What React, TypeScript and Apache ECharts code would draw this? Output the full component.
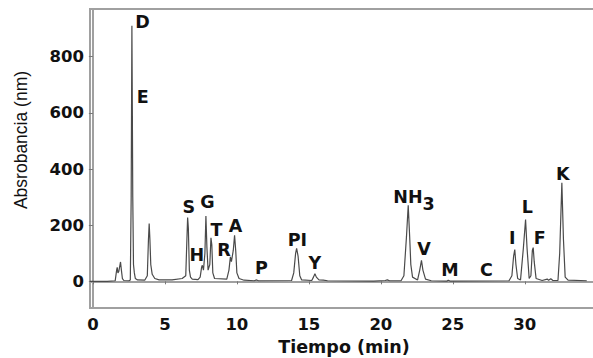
import React, { useEffect, useRef } from "react";
import * as echarts from "echarts";

// Chromatogram trace (time in min, absorbance)
const times = [
  -0.2, 1.0, 1.55, 1.65, 1.69, 1.74, 1.8, 1.92, 1.98, 2.05, 2.15, 2.5, 2.6, 2.66, 2.71, 2.74, 2.77, 2.82, 2.88, 2.95,
  3.1, 3.6, 3.78, 3.86, 3.91, 3.96, 4.02, 4.12, 4.3, 4.6, 5.5, 6.2, 6.45, 6.53, 6.58, 6.63, 6.7, 6.78, 6.9, 7.3,
  7.45, 7.55, 7.6, 7.68, 7.78, 7.85, 7.92, 8.0, 8.12, 8.2, 8.26, 8.33, 8.45, 9.3, 9.45, 9.55, 9.62, 9.75, 9.84, 9.92,
  10.0, 10.15, 10.5, 11.2, 11.37, 11.5, 13.8, 13.95, 14.08, 14.15, 14.25, 14.37, 14.5, 15.2, 15.32, 15.42, 15.52, 15.7, 16.0, 16.3,
  19.5, 20.3, 20.45, 20.6, 21.4, 21.6, 21.78, 21.9, 22.0, 22.08, 22.2, 22.55, 22.7, 22.82, 22.92, 23.1, 23.5, 24.6, 24.68, 24.8,
  28.9, 29.1, 29.22, 29.3, 29.38, 29.5, 29.7, 29.9, 30.05, 30.15, 30.3, 30.42, 30.52, 30.58, 30.65, 30.78, 31.2, 31.55, 31.65, 31.8,
  31.95, 32.3, 32.42, 32.57, 32.68, 32.8, 33.0, 34.3,
];
const absorbance = [
  0, 0, 2, 40, 50, 30, 35, 69, 40, 10, 3, 2, 5, 300, 910, 620, 300, 60, 30, 10,
  5, 4, 20, 150, 206, 150, 60, 25, 10, 5, 5, 10, 20, 150, 227, 190, 40, 15, 8, 6,
  15, 50, 57, 40, 100, 233, 120, 40, 60, 155, 130, 30, 10, 8, 40, 87, 70, 110, 164, 110,
  30, 10, 4, 2, 5, 2, 3, 30, 100, 117, 90, 20, 5, 3, 15, 27, 15, 5, 4, 2,
  1, 3, 5, 2, 2, 20, 160, 271, 160, 60, 15, 5, 40, 75, 40, 8, 2, 1, 4, 1,
  2, 20, 90, 113, 60, 10, 5, 120, 220, 120, 10, 20, 110, 120, 70, 10, 3, 8, 4, 9,
  3, 3, 100, 351, 150, 15, 4, 2,
];

// Peak annotations (label anchor in data units)
const peakNames = ["D", "E", "S", "G", "H", "T", "R", "A", "P", "PI", "Y", "NH", "3", "V", "M", "C", "I", "L", "F", "K"];
const peakLabelTimes = [3.44, 3.47, 6.67, 7.95, 7.22, 8.59, 9.1, 9.9, 11.7, 14.2, 15.42, 21.88, 23.32, 22.99, 24.79, 27.33, 29.13, 30.17, 31.04, 32.64];
const peakLabelValues = [925, 655, 264, 282, 93, 184, 112, 196, 46, 148, 64, 301, 276, 114, 39, 41, 154, 265, 154, 384];

const xTicks = [0, 5, 10, 15, 20, 25, 30];
const yTicks = [0, 200, 400, 600, 800];

export default function App() {
  const ref = useRef<HTMLDivElement>(null);
  useEffect(() => {
    if (!ref.current) return;
    const chart = echarts.init(ref.current, undefined, { renderer: "svg" });
    const txt = "#111";
    const bold = { fontFamily: "DejaVu Sans", fontWeight: "bold" as const, color: txt };
    chart.setOption({
      animation: false,
      backgroundColor: "#fff",
      grid: {
        left: 90,
        right: -5,
        top: 9,
        bottom: 50,
        containLabel: false,
        outerBoundsMode: "none",
        show: true,
        borderColor: "#a0a0a0",
        borderWidth: 2,
      },
      xAxis: {
        type: "value",
        min: -0.2,
        max: 35.08,
        splitLine: { show: false },
        axisLine: { lineStyle: { color: "#a0a0a0", width: 2 } },
        axisTick: { customValues: xTicks, length: 3, lineStyle: { color: "#777" } },
        axisLabel: { customValues: xTicks, fontSize: 16.5, margin: 8, ...bold },
        name: "Tiempo (min)",
        nameLocation: "middle",
        nameGap: 30,
        nameTextStyle: { fontSize: 17.5, ...bold },
      },
      yAxis: {
        type: "value",
        min: -95,
        max: 970,
        splitLine: { show: false },
        axisLine: { show: true, lineStyle: { color: "#a0a0a0", width: 2 } },
        axisTick: { show: true, customValues: yTicks, length: 4, lineStyle: { color: "#777" } },
        axisLabel: { customValues: yTicks, fontSize: 16.5, margin: 6, ...bold },
      },
      graphic: [
        {
          type: "text",
          x: 21,
          y: 140,
          rotation: Math.PI / 2,
          style: {
            text: "Absrobancia (nm)",
            fontFamily: "Liberation Sans",
            fontSize: 17.5,
            fill: txt,
            align: "center",
            verticalAlign: "middle",
          },
        },
      ],
      series: [
        {
          type: "line",
          data: times.map((t, i) => [t, absorbance[i]]),
          symbol: "none",
          lineStyle: { color: "#4a4a4a", width: 1.2 },
          markPoint: {
            symbol: "circle",
            symbolSize: 1,
            itemStyle: { color: "rgba(0,0,0,0)" },
            label: {
              show: true,
              position: "inside",
              formatter: (p: any) => p.name,
              fontSize: 17.5,
              ...bold,
            },
            data: peakNames.map((n, i) => ({ name: n, coord: [peakLabelTimes[i], peakLabelValues[i]] })),
          },
        },
      ],
    });
    return () => chart.dispose();
  }, []);
  return <div ref={ref} style={{ position: "absolute", left: 0, top: 0, width: 593, height: 358 }} />;
}
